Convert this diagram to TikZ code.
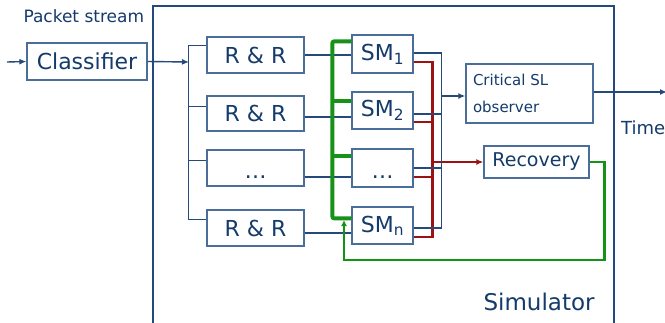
\documentclass[tikz,border=0pt]{standalone}
\usepackage{fontspec}
\setmainfont{DejaVu Sans}
\usetikzlibrary{arrows.meta}
\definecolor{txt}{HTML}{143B6B}
\definecolor{boxc}{HTML}{4A6D99}
\definecolor{lnc}{HTML}{24497A}
\definecolor{grn}{HTML}{169316}
\definecolor{rd}{HTML}{9B1212}
\tikzset{
  box/.style={draw=boxc, line width=1.3pt, text=txt, inner sep=0pt, anchor=center},
  conn/.style={draw=lnc, line width=1.4pt},
  redl/.style={draw=rd, line width=2.4pt},
  gbus/.style={draw=grn, line width=4pt},
  gfb/.style={draw=grn, line width=2.4pt},
  tip/.style={-{Latex[length=7pt,width=6pt]}},
  f22/.style={font=\fontsize{22}{26}\selectfont},
}
\newcommand{\lowdots}{\smash{\raisebox{-10pt}{…}}}
\begin{document}
\begin{tikzpicture}[x=1pt,y=-1pt]
\useasboundingbox (0,0) rectangle (665,322);
\fill[white] (0,0) rectangle (665,322);
% simulator frame (open bottom)
\draw[draw=lnc, line width=1.2pt] (153,330) -- (153,6) -- (614,6) -- (614,330);
\node[text=txt, anchor=west, font=\fontsize{23}{27}\selectfont] (simlab) at (480,302) {Simulator};
\node[text=txt, anchor=west, font=\fontsize{17}{20}\selectfont] (pslab) at (20,16) {Packet stream};
\node[text=txt, anchor=west, inner sep=0pt, font=\fontsize{18}{22}\selectfont] (timelab) at (621,128) {Time};

% nodes
\node[box, f22, minimum width=120pt, minimum height=37pt] (cls) at (87,61.5) {Classifier};
\node[box, f22, minimum width=97pt, minimum height=36pt] (rr1) at (255.5,55) {R \& R};
\node[box, f22, minimum width=97pt, minimum height=35pt] (rr2) at (255.5,113.5) {R \& R};
\node[box, f22, minimum width=97pt, minimum height=36pt] (rr3) at (255.5,168) {\lowdots};
\node[box, f22, minimum width=97pt, minimum height=36pt] (rr4) at (255.5,228) {R \& R};
\node[box, f22, minimum width=61pt, minimum height=38pt] (sm1) at (382.5,54) {SM\textsubscript{1}};
\node[box, f22, minimum width=61pt, minimum height=37pt] (sm2) at (382.5,110.5) {SM\textsubscript{2}};
\node[box, f22, minimum width=61pt, minimum height=38pt] (sm3) at (382.5,168) {\lowdots};
\node[box, f22, minimum width=61pt, minimum height=37pt] (smn) at (382.5,225.5) {SM\textsubscript{n}};
\node[box, minimum width=127pt, minimum height=59pt, text width=113pt, align=left, font=\fontsize{15}{27}\selectfont] (obs) at (529.5,93.5) {Critical SL\\observer};
\node[box, minimum width=105pt, minimum height=32pt, font=\fontsize{19}{22}\selectfont] (rec) at (536.5,162) {Recovery};

% coordinates
\coordinate (in) at (7,62);
\coordinate (bus) at (189,62);
\coordinate (bb) at (441,0);
\coordinate (rb) at (432,0);
\coordinate (gb) at (344,220);
\coordinate (out) at (667,92);

% input side
\draw[conn, tip] (in) -- (cls.west);
\draw[conn, tip] (cls.east) -- (bus);
\draw[conn] ([yshift=-9pt]rr1.north west) -- ++(-18,0) |- ([yshift=-10pt]rr4.north west);
\draw[conn] ([yshift=-11pt]rr2.north west) -- ++(-18,0);
\draw[conn] ([yshift=-11pt]rr3.north west) -- ++(-18,0);

% R&R to SM
\draw[conn] (rr1.east) -- (sm1.west |- rr1.east);
\draw[conn] ([yshift=-3.5pt]rr2.east) -- ([yshift=-3.5pt]sm2.west |- rr2.east);
\draw[conn] ([yshift=-9pt]rr3.east) -- ([yshift=-9pt]sm3.west |- rr3.east);
\draw[conn] ([yshift=-5pt]rr4.east) -- ([yshift=-5pt]smn.west |- rr4.east);

% red outputs
\draw[redl] ([yshift=-8pt]sm1.east) -- ++(19,0) |- ([yshift=-11.5pt]smn.east);
\draw[redl] ([yshift=-11.5pt]sm2.east) -- ++(19,0);
\draw[redl] ([yshift=-9pt]sm3.east) -- ++(19,0);
\draw[redl, line width=1.6pt, tip] (rec.west -| rb) -- (rec.west);

% blue outputs
\draw[conn] ([yshift=1pt]sm1.east) -- ++(28,0) |- ([yshift=-2.5pt]smn.east);
\draw[conn] ([yshift=-3.5pt]sm2.east) -- ++(28,0);
\draw[conn] (sm3.east) -- ++(28,0);
\draw[conn, tip] ([yshift=-2.5pt]obs.west -| bb) -- ([yshift=-2.5pt]obs.west);
\draw[conn, tip] ([yshift=1.5pt]obs.east) -- (out);

% green bus
\draw[gbus, rounded corners=2pt] ([yshift=-7pt]sm1.north west) -- ++(-19,0) |- ([yshift=-12pt]smn.north west);
\draw[gbus] ([yshift=-10pt]sm2.north west) -- ++(-19,0);
\draw[gbus] ([yshift=-8pt]sm3.north west) -- ++(-19,0);
% green feedback
\draw[gfb, -{Latex[length=6pt,width=6pt]}] (rec.east) -| ++(15,98) -| (gb);
\end{tikzpicture}
\end{document}
